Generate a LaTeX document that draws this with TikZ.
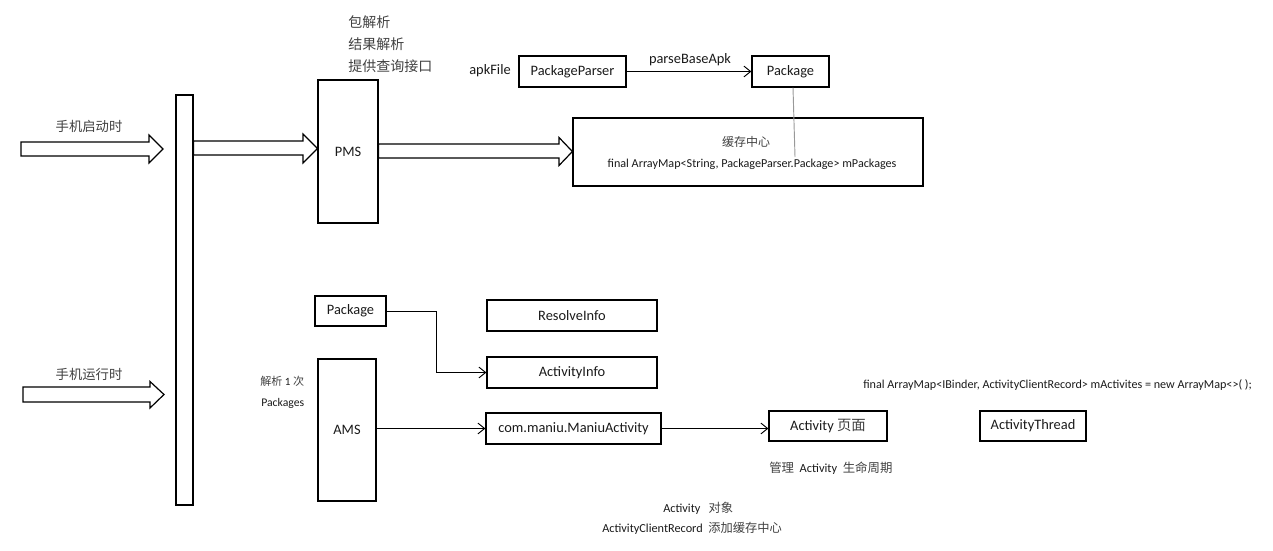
\documentclass[tikz,border=0pt]{standalone}
\usepackage{fontspec}
\setmainfont{Carlito}
\newfontfamily\cjk{Noto Sans CJK SC}
\usetikzlibrary{arrows.meta}
\definecolor{txt}{HTML}{1A1A1A}
\definecolor{cjkc}{HTML}{404040}
\tikzset{
  box/.style={draw=black, line width=0.9pt, inner sep=0pt, text=txt, font=\fontsize{10.8}{12}\selectfont},
  lbl/.style={inner sep=0pt, text=txt, anchor=center},
  blk/.style={draw=black, line width=0.9pt, fill=white},
  con/.style={draw=black, line width=0.7pt, -{Straight Barb[length=5pt,width=8pt,line width=0.7pt]}},
}
\newcommand{\zh}[1]{{\cjk\color{cjkc}#1}}
\begin{document}
\begin{tikzpicture}[x=0.75pt,y=-0.75pt]
\useasboundingbox (0,0) rectangle (1273,550);
% boxes
\node[box, minimum width=12.75pt, minimum height=307.5pt] (bar) at (184.5,300) {};
\node[box, minimum width=45pt, minimum height=107.25pt] (pms) at (348,151.5) {PMS};
\node[box, minimum width=80.25pt, minimum height=23.25pt] (pp) at (572.5,71.5) {PackageParser};
\node[box, minimum width=57.75pt, minimum height=23.25pt] (pkg) at (790.5,71.5) {Package};
\node[box, minimum width=262.5pt, minimum height=51pt] (cache) at (748,152) {};
\node[box, minimum width=53.25pt, minimum height=22.5pt] (pkg2) at (350.5,311) {Package};
\node[box, minimum width=127.5pt, minimum height=23.25pt] (ri) at (572,315.5) {ResolveInfo};
\node[box, minimum width=127.5pt, minimum height=23.25pt] (ai) at (572,372.5) {ActivityInfo};
\node[box, minimum width=43.5pt, minimum height=106.5pt] (ams) at (347,430) {AMS};
\node[box, minimum width=131.25pt, minimum height=23.25pt] (ma) at (573.5,428.5) {com.maniu.ManiuActivity};
\node[box, minimum width=88.5pt, minimum height=22.5pt] (act) at (828,426) {Activity \zh{页面}};
\node[box, minimum width=79.5pt, minimum height=22.5pt] (at) at (1033,426) {ActivityThread};
% block arrows
\draw[blk] (21,142) -- (149,142) -- (149,135) -- (163,149) -- (149,163) -- (149,156) -- (21,156) -- cycle;
\draw[blk] (bar.east |- 0,141) -- (303,141) -- (303,134) -- (pms.west |- 0,148.5) -- (303,163) -- (303,155) -- (bar.east |- 0,155) -- cycle;
\draw[blk] (pms.east |- 0,144) -- (559,144) -- (559,137.5) -- (cache.west |- 0,151.5) -- (559,165.5) -- (559,158) -- (pms.east |- 0,158) -- cycle;
\draw[blk] (23,387) -- (150,387) -- (150,381.5) -- (164,394.5) -- (150,408) -- (150,402) -- (23,402) -- cycle;
% connectors
\draw[con] (pp.east) -- (pkg.west);
\coordinate (pkgend) at (795,157);
\draw[draw=gray!80, line width=0.7pt] (pkg.south -| 793,0) -- (pkgend);
\draw[con] (pkg2.east) -- (436,311) -- (436,372.5) -- (ai.west);
\draw[con] (ams.east |- ma.west) -- (ma.west);
\draw[con] (ma.east) -- (act.west |- ma.east);
% labels
\node[lbl, anchor=west, font=\fontsize{10.5}{12}\selectfont] (t1) at (348,22) {\zh{包解析}};
\node[lbl, anchor=west, font=\fontsize{10.5}{12}\selectfont] (t2) at (348,44) {\zh{结果解析}};
\node[lbl, anchor=west, font=\fontsize{10.5}{12}\selectfont] (t3) at (348,66) {\zh{提供查询接口}};
\node[lbl, font=\fontsize{10}{12}\selectfont] (l1) at (89,126) {\zh{手机启动时}};
\node[lbl, font=\fontsize{10}{12}\selectfont] (l2) at (89,374) {\zh{手机运行时}};
\node[lbl, anchor=east, font=\fontsize{10.8}{12}\selectfont] (apk) at (511,71) {apkFile};
\node[lbl, font=\fontsize{10.8}{12}\selectfont] (pba) at (690,60) {parseBaseApk};
\node[lbl, font=\fontsize{9}{11}\selectfont] (cc) at (746,142) {\zh{缓存中心}};
\node[lbl, font=\fontsize{9.1}{10}\selectfont] (mp) at (752,164) {final ArrayMap<String, PackageParser.Package> mPackages};
\node[lbl, anchor=west, font=\fontsize{8.3}{10}\selectfont] (jx) at (260,381) {\zh{解析} 1 \zh{次}};
\node[lbl, anchor=west, font=\fontsize{8.8}{10}\selectfont] (pks) at (261,403) {Packages};
\node[lbl, anchor=west, font=\fontsize{9.1}{10}\selectfont] (ma2) at (863,385) {final ArrayMap<IBinder, ActivityClientRecord> mActivites = new ArrayMap<>( );};
\node[lbl, anchor=west, font=\fontsize{9.3}{11}\selectfont] (gl) at (769,468) {\zh{管理}\ \ Activity\ \ \zh{生命周期}};
\node[lbl, anchor=west, font=\fontsize{9.2}{10}\selectfont] (ao) at (663,508) {Activity\ \ \ \zh{对象}};
\node[lbl, anchor=west, font=\fontsize{9.2}{10}\selectfont] (acr) at (602,528) {ActivityClientRecord\ \ \zh{添加缓存中心}};
\end{tikzpicture}
\end{document}
